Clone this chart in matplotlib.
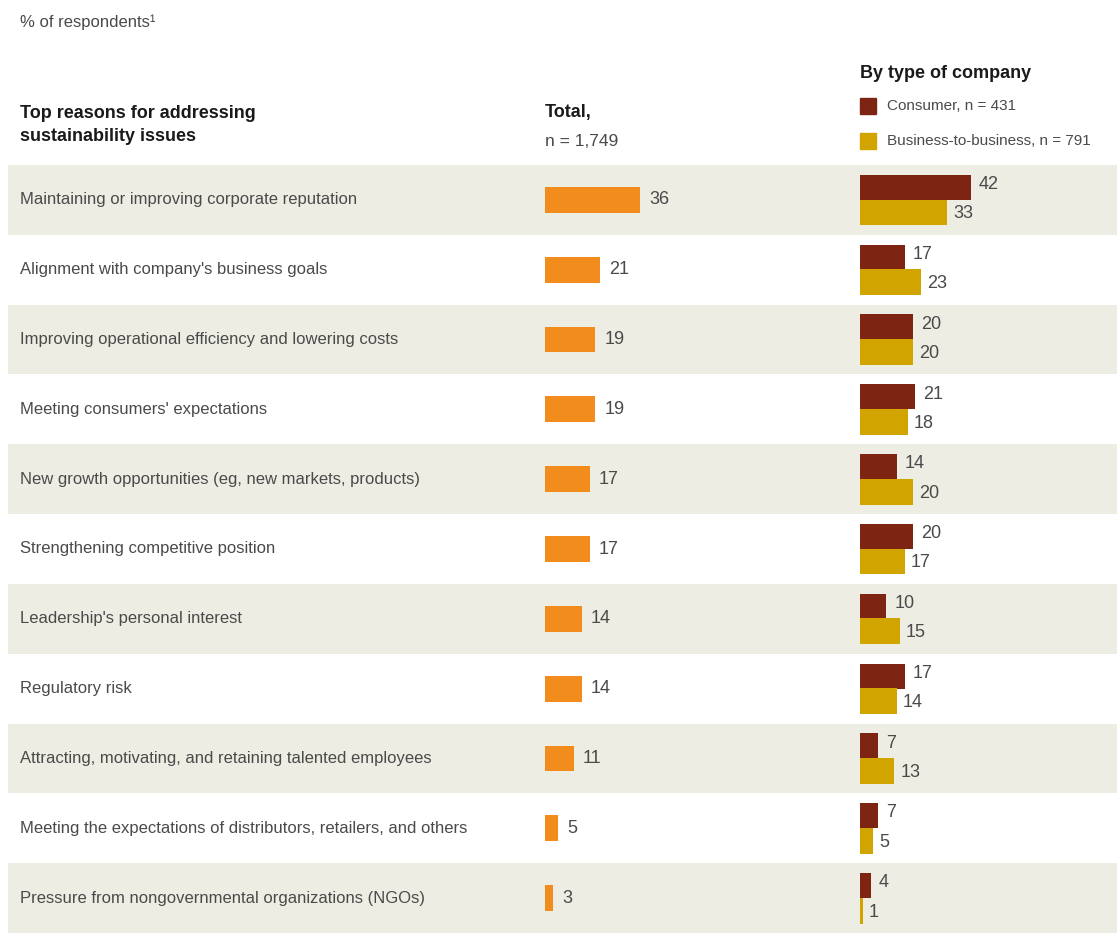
import matplotlib
matplotlib.use("Agg")
import matplotlib.pyplot as plt

plt.rcParams["font.family"] = ["Liberation Sans", "DejaVu Sans"]

reasons = [
    "Maintaining or improving corporate reputation",
    "Alignment with company's business goals",
    "Improving operational efficiency and lowering costs",
    "Meeting consumers' expectations",
    "New growth opportunities (eg, new markets, products)",
    "Strengthening competitive position",
    "Leadership's personal interest",
    "Regulatory risk",
    "Attracting, motivating, and retaining talented employees",
    "Meeting the expectations of distributors, retailers, and others",
    "Pressure from nongovernmental organizations (NGOs)",
]
total = [36, 21, 19, 19, 17, 17, 14, 14, 11, 5, 3]
consumer = [42, 17, 20, 21, 14, 20, 10, 17, 7, 7, 4]
b2b = [33, 23, 20, 18, 20, 17, 15, 14, 13, 5, 1]

ORANGE = "#F28C1C"
DARKRED = "#7E2412"
MUSTARD = "#D2A400"
BAND = "#EEEDE4"
GREY = "#4a4a4a"
DARK = "#1a1a1a"

W, H = 1117, 933
fig = plt.figure(figsize=(W / 100, H / 100), dpi=100, facecolor="white")

top_px = 165
rows_h = (H - top_px) / H
n = len(reasons)


def fy(px):
    return 1 - px / H


# background bands + category names
ax_bg = fig.add_axes([0, 0, 1, rows_h])
ax_bg.set_xlim(0, W)
ax_bg.set_ylim(n - 0.5, -0.5)
ax_bg.axis("off")
for i, name in enumerate(reasons):
    if i % 2 == 0:
        ax_bg.axhspan(i - 0.5, i + 0.5, xmin=8 / W, xmax=1, color=BAND, lw=0)
    ax_bg.text(20, i, name, va="center", ha="left", fontsize=12, color=GREY)

scale = 2.64  # px per percentage point

# total bars
ax_t = fig.add_axes([545 / W, 0, 280 / W, rows_h])
ax_t.set_xlim(0, 280 / scale)
ax_t.set_ylim(n - 0.5, -0.5)
ax_t.axis("off")
ax_t.barh(range(n), total, height=0.37, color=ORANGE)
for i, v in enumerate(total):
    ax_t.annotate(str(v), (v, i), xytext=(9, 0), textcoords="offset pixels",
                  va="center", ha="left", fontsize=13, color=GREY)

# by company type
ax_c = fig.add_axes([860 / W, 0, 250 / W, rows_h])
ax_c.set_xlim(0, 250 / scale)
ax_c.set_ylim(n - 0.5, -0.5)
ax_c.axis("off")
yc = [i - 0.18 for i in range(n)]
yb = [i + 0.18 for i in range(n)]
ax_c.barh(yc, consumer, height=0.36, color=DARKRED)
ax_c.barh(yb, b2b, height=0.37, color=MUSTARD)
for i in range(n):
    ax_c.annotate(str(consumer[i]), (consumer[i], yc[i] - 0.04), xytext=(8, 0),
                  textcoords="offset pixels", va="center", ha="left",
                  fontsize=13, color=GREY)
    ax_c.annotate(str(b2b[i]), (b2b[i], yb[i] + 0.02), xytext=(6, 0),
                  textcoords="offset pixels", va="center", ha="left",
                  fontsize=13, color=GREY)

# headers
fig.text(20 / W, fy(22), "% of respondents\u00b9", fontsize=12, color=GREY, va="center")
fig.text(20 / W, fy(125), "Top reasons for addressing\nsustainability issues",
         fontsize=13, fontweight="bold", color=DARK, va="center", linespacing=1.5)
fig.text(545 / W, fy(112), "Total,", fontsize=13, fontweight="bold", color=DARK, va="center")
fig.text(545 / W, fy(141), "n = 1,749", fontsize=12.5, color=GREY, va="center")
fig.text(860 / W, fy(73), "By type of company", fontsize=13, fontweight="bold",
         color=DARK, va="center")
for ypx, col, lab in [(106, DARKRED, "Consumer, n = 431"),
                      (141, MUSTARD, "Business-to-business, n = 791")]:
    fig.patches.append(plt.Rectangle((860 / W, fy(ypx + 8)), 16 / W, 16 / H,
                                     transform=fig.transFigure, color=col))
    fig.text(887 / W, fy(ypx), lab, fontsize=11, color=GREY, va="center")

fig.savefig("out.png", dpi=100, facecolor="white")
